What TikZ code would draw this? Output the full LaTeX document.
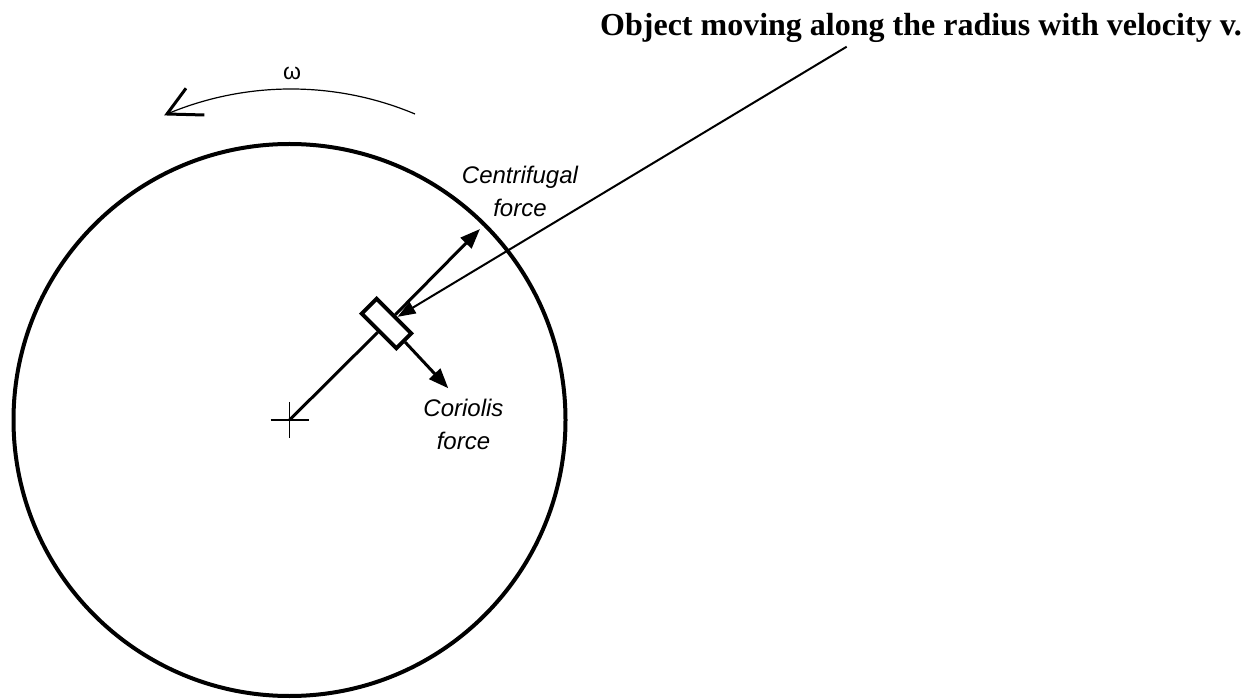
\documentclass[tikz,border=0pt]{standalone}
\usepackage{fontspec}
\setmainfont{Liberation Serif}
\newfontfamily\labelfont{Liberation Sans}
\usetikzlibrary{arrows.meta}
\begin{document}
\begin{tikzpicture}[x=1pt,y=-1pt,
  disc/.style={line width=4pt},
  radline/.style={line width=3pt},
  forcearrow/.style={line width=3pt,-{Triangle[length=20pt,width=15pt]}},
  pointer/.style={line width=2pt,-{Triangle[length=18pt,width=13pt]}},
  forcelabel/.style={font=\labelfont\itshape\fontsize{24}{33}\selectfont, align=center, inner sep=0pt, anchor=north},
  blockbox/.style={draw, line width=4pt, minimum width=49pt, minimum height=21pt, inner sep=0pt, rotate=-45}
]
\useasboundingbox (0,0) rectangle (1256,700);
% rotating disc
\coordinate (O) at (289.5,420);
\draw[disc] (O) circle[radius=276];
% centre cross
\draw[line width=1.8pt] (O) +(-19,0) -- +(19,0) (O) +(0,-18) -- +(0,18);
% sliding object
\node[blockbox] (blk) at (386.5,323.5) {};
\draw[radline] (O) -- (blk.south);
% forces
\coordinate (cfTip) at (480,229);
\coordinate (corTip) at (448.3,388.3);
\draw[forcearrow] (blk.north) -- (cfTip);
\draw[forcearrow] (blk.east) -- (corTip);
\node[forcelabel] (cfLabel) at (520,165.8) {Centrifugal\\force};
\node[forcelabel] (corLabel) at (463.5,399.3) {Coriolis\\force};
% pointer from title
\node[font=\bfseries\fontsize{32}{36}\selectfont, anchor=base west, inner sep=0pt] (title) at (600,35.5) {Object moving along the radius with velocity v.};
\coordinate (ptrStart) at (846.7,46.7);
\draw[pointer] (ptrStart) -- (blk);
% rotation omega
\coordinate (omR) at (415,114);
\coordinate (omTip) at (167,114);
\coordinate (omA) at (186,88.3);
\coordinate (omB) at (204.3,115);
\draw[line width=1.2pt] (omR) arc[start angle=-67.2,end angle=-112.8,radius=320];
\draw[line width=3pt] (omA) -- (omTip) -- (omB);
\node[font=\labelfont\fontsize{23}{26}\selectfont, anchor=base, inner sep=0pt] (omega) at (292,80) {ω};
\end{tikzpicture}
\end{document}
